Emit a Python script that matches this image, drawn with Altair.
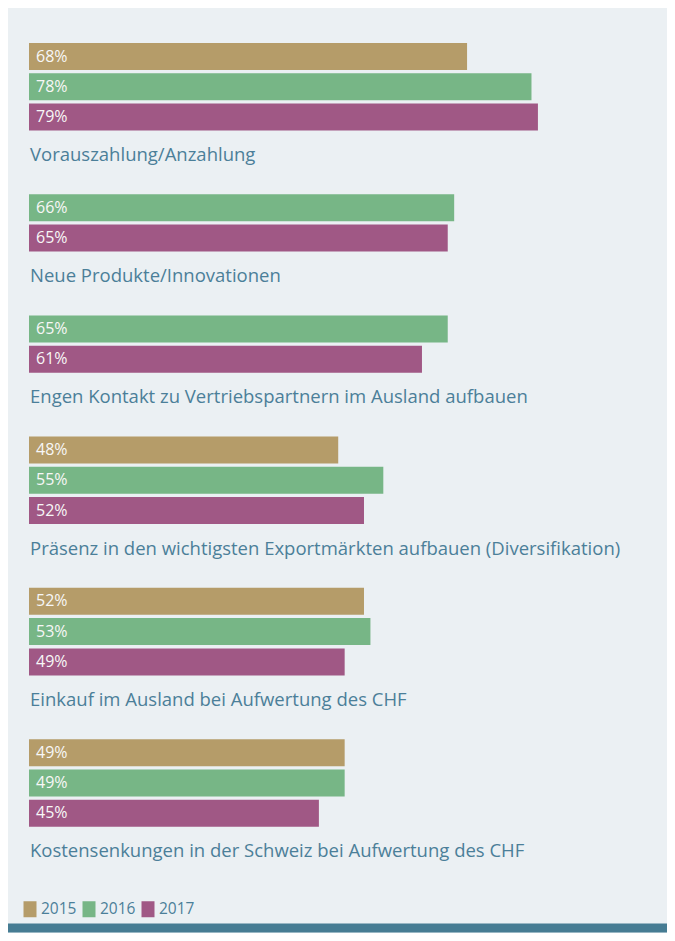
import altair as alt
import pandas as pd

categories = [
    "Vorauszahlung/Anzahlung",
    "Neue Produkte/Innovationen",
    "Engen Kontakt zu Vertriebspartnern im Ausland aufbauen",
    "Präsenz in den wichtigsten Exportmärkten aufbauen (Diversifikation)",
    "Einkauf im Ausland bei Aufwertung des CHF",
    "Kostensenkungen in der Schweiz bei Aufwertung des CHF",
]
years = ["2015", "2016", "2017"]
v2015 = [68, None, None, 48, 52, 49]
v2016 = [78, 66, 65, 55, 53, 49]
v2017 = [79, 65, 61, 52, 49, 45]
colors = ["#b59c69", "#77b686", "#a05885"]

# build slot layout: each group = its bars + label row + spacer row
bar_rows, label_rows = [], []
slot = 0
for i, cat in enumerate(categories):
    for y, vals in zip(years, [v2015, v2016, v2017]):
        if vals[i] is not None:
            bar_rows.append({"slot": slot, "Jahr": y, "value": vals[i], "txt": f"{vals[i]}%"})
            slot += 1
    label_rows.append({"slot": slot, "label": cat})
    slot += 1
    if i < len(categories) - 1:
        slot += 1
n_slots = slot

bars_df = pd.DataFrame(bar_rows)
labels_df = pd.DataFrame(label_rows)

W, H = 612, 814
yscale = alt.Scale(domain=list(range(n_slots)), paddingInner=0.108, paddingOuter=0)
FONT = "Open Sans"
TEAL = "#4b7f99"

bars = alt.Chart(bars_df).mark_bar(cornerRadius=0).encode(
    x=alt.X("value:Q", scale=alt.Scale(domain=[0, 95]), axis=None),
    y=alt.Y("slot:O", scale=yscale, axis=None),
    color=alt.Color(
        "Jahr:N",
        scale=alt.Scale(domain=years, range=colors),
        legend=alt.Legend(
            title=None, orient="none", direction="horizontal",
            legendX=-7, legendY=858, padding=0,
            symbolType="M-0.8125,-1H0.8125V1H-0.8125Z", symbolSize=256,
            symbolStrokeWidth=0, symbolOpacity=1,
            labelFont=FONT, labelFontSize=15.5, labelColor=TEAL,
            labelOffset=3, columnPadding=4,
        ),
    ),
)

vals = alt.Chart(bars_df).mark_text(
    align="left", baseline="middle", font=FONT, fontSize=16, color="#f7f7f7"
).encode(
    x=alt.value(7),
    y=alt.Y("slot:O", scale=yscale, axis=None),
    text="txt:N",
)

labels = alt.Chart(labels_df).mark_text(
    align="left", baseline="middle", font=FONT, fontSize=18.5, color=TEAL, dy=8
).encode(
    x=alt.value(1),
    y=alt.Y("slot:O", scale=yscale, axis=None),
    text="label:N",
)

footer = alt.Chart(pd.DataFrame({"a": [0]})).mark_rule(color="#467c93", strokeWidth=9).encode(
    x=alt.value(-21), x2=alt.value(W + 26), y=alt.value(885)
)

chart = alt.layer(bars, vals, labels, footer).properties(
    width=W, height=H,
    padding={"left": 21, "right": 26, "top": 35, "bottom": 76},
    autosize=alt.AutoSizeParams(type="none"),
    background="#ebf0f3",
).configure_view(stroke=None)

chart.save("out.html", embed_options={"renderer": "svg", "actions": False})
